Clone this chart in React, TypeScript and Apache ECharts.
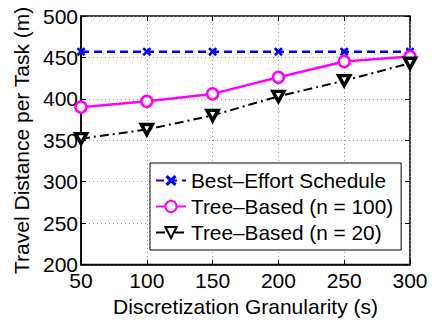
import React, { useEffect, useRef } from "react";
import * as echarts from "echarts";

const categories = [50, 100, 150, 200, 250, 300];
const bestEffort = [457, 457, 457, 457, 457, 457];
const tree100 = [390, 397, 406, 426, 445, 451];
const tree20 = [352, 363, 380, 403, 422, 443];
const seriesNames = ["Best\u2013Effort Schedule", "Tree\u2013Based (n = 100)", "Tree\u2013Based (n = 20)"];

const FONT = "Liberation Sans, Arial, Helvetica, sans-serif";

export default function App() {
  const ref = useRef<HTMLDivElement>(null);
  useEffect(() => {
    if (!ref.current) return;
    const chart = echarts.init(ref.current, null, { renderer: "svg" });
    const xSym = "path://M2,0 L5,3 L8,0 L10,2 L7,5 L10,8 L8,10 L5,7 L2,10 L0,8 L3,5 L0,2 Z";
    const triSym = "path://M0,0 L10,0 L5,9 Z";
    const toPairs = (arr: number[]) => arr.map((v, i) => [categories[i], v]);
    chart.setOption({
      animation: false,
      backgroundColor: "#fff",
      textStyle: { fontFamily: FONT },
      grid: { left: 81, right: 30, top: 16, bottom: 51, show: true, borderColor: "#000", borderWidth: 1.5, containLabel: false },
      legend: {
        orient: "vertical",
        left: 150,
        top: 163,
        padding: [7, 8, 7, 5],
        itemGap: 5,
        itemWidth: 30,
        itemHeight: 14,
        backgroundColor: "#fff",
        borderColor: "#000",
        borderWidth: 1,
        borderRadius: 0,
        textStyle: { fontSize: 20.8, color: "#000", fontFamily: FONT },
        data: seriesNames,
      },
      xAxis: [
        {
          type: "value",
          min: 50,
          max: 300,
          interval: 50,
          name: "Discretization Granularity (s)",
          nameLocation: "middle",
          nameGap: 25,
          nameTextStyle: { fontSize: 21, color: "#000", fontFamily: FONT },
          axisLine: { show: true, lineStyle: { color: "#000", width: 1.5 } },
          axisTick: { show: true, inside: true, length: 5, lineStyle: { color: "#000" } },
          axisLabel: { fontSize: 21, lineHeight: 16, color: "#000", margin: 8, fontFamily: FONT },
          splitLine: { show: true, lineStyle: { color: "#999", type: [1, 3], width: 1 } },
        },
        {
          type: "value",
          position: "top",
          min: 50,
          max: 300,
          interval: 50,
          axisLine: { show: false },
          axisTick: { show: true, inside: true, length: 5, lineStyle: { color: "#000" } },
          axisLabel: { show: false },
          splitLine: { show: false },
        },
      ],
      yAxis: [
        {
          type: "value",
          min: 200,
          max: 500,
          interval: 50,
          name: "Travel Distance per Task (m)",
          nameLocation: "middle",
          nameGap: 48,
          nameTextStyle: { fontSize: 21, color: "#000", fontFamily: FONT },
          axisLine: { show: true, lineStyle: { color: "#000", width: 1.5 } },
          axisTick: { show: true, inside: true, length: 5, lineStyle: { color: "#000" } },
          axisLabel: { fontSize: 21, lineHeight: 16, color: "#000", margin: 3, fontFamily: FONT },
          splitLine: { show: true, lineStyle: { color: "#999", type: [1, 3], width: 1 } },
        },
        {
          type: "value",
          position: "right",
          min: 200,
          max: 500,
          interval: 50,
          axisLine: { show: false },
          axisTick: { show: true, inside: true, length: 5, lineStyle: { color: "#000" } },
          axisLabel: { show: false },
          splitLine: { show: false },
        },
      ],
      series: [
        {
          name: seriesNames[0],
          type: "line",
          data: toPairs(bestEffort),
          symbol: xSym,
          symbolSize: 9,
          lineStyle: { color: "#0000ff", width: 2.5, type: [8, 5] },
          itemStyle: { color: "#0000ff" },
          z: 3,
        },
        {
          name: seriesNames[1],
          type: "line",
          data: toPairs(tree100),
          symbol: "circle",
          symbolSize: 11,
          lineStyle: { color: "#ff00ff", width: 2.5 },
          itemStyle: { color: "#fff", borderColor: "#ff00ff", borderWidth: 2.5 },
          z: 4,
        },
        {
          name: seriesNames[2],
          type: "line",
          data: toPairs(tree20),
          symbol: triSym,
          symbolSize: [11, 10],
          lineStyle: { color: "#000", width: 2, type: [9, 4, 2, 4] },
          itemStyle: { color: "#fff", borderColor: "#000", borderWidth: 3.5 },
          z: 5,
        },
      ],
    });
    return () => chart.dispose();
  }, []);
  return <div ref={ref} style={{ width: 440, height: 322, position: "absolute", left: 0, top: 0 }} />;
}
